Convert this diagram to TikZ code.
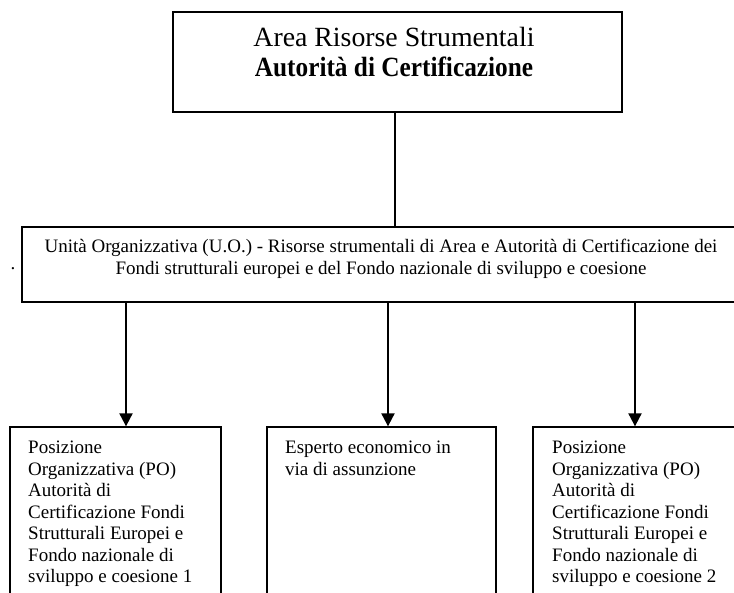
\documentclass[tikz,border=0pt]{standalone}
\usepackage{graphicx}
\usepackage{fontspec}
\setmainfont{Liberation Serif}
\usetikzlibrary{arrows.meta}
\begin{document}
\begin{tikzpicture}[x=1pt,y=-1pt,
  box/.style={draw=black,line width=1.3pt,inner sep=0pt,minimum height=#1},
  box/.default=100,
  txt/.style={inner sep=0pt,font=\fontsize{19}{21.5}\selectfont},
  arr/.style={line width=2pt,-{Triangle[width=13pt,length=13pt]}},
  link/.style={line width=1.5pt}]
\useasboundingbox (0,0) rectangle (734,593);
\clip (0,0) rectangle (734,593);

% boxes
\node[box=100,minimum width=449] (area) at (397.5,62) {};
\node[box=75,minimum width=718] (uo) at (381,264.5) {};
\node[box=176,minimum width=211] (po1) at (115.5,515) {};
\node[box=176,minimum width=229] (esp) at (381.5,515) {};
\node[box=176,minimum width=211] (po2) at (638.5,515) {};

% texts
\node[inner sep=0pt,anchor=base,text width=440,align=flush center,
  font=\fontsize{27.8}{29.5}\selectfont] (areat) at (394,46.7)
  {Area Risorse Strumentali\\\scalebox{0.91}[1]{\textbf{Autorità di Certificazione}}};
\node[txt,anchor=base,text width=710,align=flush center,
  font=\fontsize{19}{22}\selectfont] (uot) at (381,253)
  {Unità Organizzativa (U.O.) - Risorse strumentali di Area e Autorità di Certificazione dei\\
   Fondi strutturali europei e del Fondo nazionale di sviluppo e coesione};
\node[txt,anchor=base west] (dot) at (10.5,270) {.};
\node[txt,anchor=base west,text width=190,align=flush left] (po1t) at (28,454)
  {Posizione\\Organizzativa (PO)\\Autorità di\\Certificazione Fondi\\Strutturali Europei e\\Fondo nazionale di\\sviluppo e coesione 1};
\node[txt,anchor=base west,text width=200,align=flush left] (espt) at (285,454)
  {Esperto economico in\\via di assunzione};
\node[txt,anchor=base west,text width=190,align=flush left] (po2t) at (552,454)
  {Posizione\\Organizzativa (PO)\\Autorità di\\Certificazione Fondi\\Strutturali Europei e\\Fondo nazionale di\\sviluppo e coesione 2};

% connectors
\coordinate (c0) at (395,0);
\coordinate (c1) at (126,0);
\coordinate (c2) at (388,0);
\coordinate (c3) at (635,0);
\draw[link] (area.south -| c0) -- (uo.north -| c0);
\draw[arr] (uo.south -| c1) -- (po1.north -| c1);
\draw[arr] (uo.south -| c2) -- (esp.north -| c2);
\draw[arr] (uo.south -| c3) -- (po2.north -| c3);
\end{tikzpicture}
\end{document}
